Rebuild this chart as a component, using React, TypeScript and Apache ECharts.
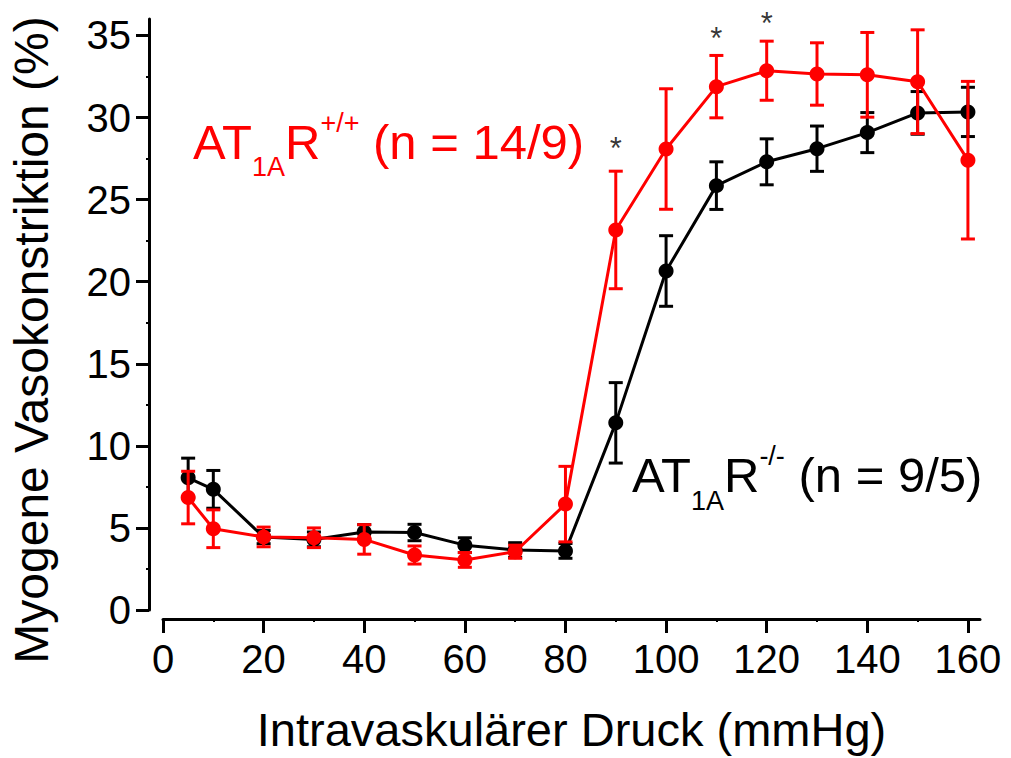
import { useEffect, useRef } from "react";
import * as echarts from "echarts";

// Intravascular pressure (mmHg)
const pressure = [5, 10, 20, 30, 40, 50, 60, 70, 80, 90, 100, 110, 120, 130, 140, 150, 160];
// AT1AR-/- (black)
const koMean = [8.05, 7.35, 4.44, 4.3, 4.75, 4.72, 3.95, 3.65, 3.6, 11.4, 20.65, 25.85, 27.3, 28.1, 29.08, 30.28, 30.34];
const koErr = [1.2, 1.15, 0.4, 0.45, 0.45, 0.5, 0.45, 0.45, 0.45, 2.45, 2.15, 1.45, 1.4, 1.38, 1.22, 1.3, 1.5];
// AT1AR+/+ (red)
const wtMean = [6.85, 4.95, 4.45, 4.4, 4.3, 3.35, 3.05, 3.55, 6.45, 23.15, 28.08, 31.88, 32.85, 32.65, 32.6, 32.18, 27.4];
const wtErr = [1.6, 1.15, 0.6, 0.6, 0.9, 0.55, 0.45, 0.4, 2.3, 3.58, 3.67, 1.9, 1.8, 1.9, 2.58, 3.16, 4.8];
// significance markers
const starX = [90, 110, 120];
const starY = [28.1, 34.8, 35.7];

const xTicks = [0, 20, 40, 60, 80, 100, 120, 140, 160];
const yTicks = [0, 5, 10, 15, 20, 25, 30, 35];

const RED = "#ff0000";
const BLACK = "#000000";
const FONT = "'Liberation Sans', Arial, Helvetica, sans-serif";

function errorSeries(name: string, means: number[], errs: number[], color: string, z: number) {
  return {
    type: "custom",
    name,
    z,
    clip: false,
    data: pressure.map((p, i) => [p, means[i] - errs[i], means[i] + errs[i]]),
    encode: { x: 0, y: [1, 2] },
    renderItem: (_params: any, api: any) => {
      const x = api.value(0);
      const lo = api.coord([x, api.value(1)]);
      const hi = api.coord([x, api.value(2)]);
      const hw = 7;
      const style = { stroke: color, lineWidth: 3, fill: "none" };
      return {
        type: "group",
        children: [
          { type: "line", shape: { x1: lo[0], y1: lo[1], x2: hi[0], y2: hi[1] }, style },
          { type: "line", shape: { x1: lo[0] - hw, y1: lo[1], x2: lo[0] + hw, y2: lo[1] }, style },
          { type: "line", shape: { x1: hi[0] - hw, y1: hi[1], x2: hi[0] + hw, y2: hi[1] }, style },
        ],
      };
    },
  };
}

function lineSeries(name: string, means: number[], color: string, z: number) {
  return {
    type: "line",
    name,
    z,
    data: pressure.map((p, i) => [p, means[i]]),
    symbol: "circle",
    symbolSize: 15,
    showSymbol: true,
    itemStyle: { color },
    lineStyle: { color, width: 3 },
  };
}

function annotation(x: number, y: number, sup: string, tail: string, color: string, subPad: number, supPad: number) {
  return {
    type: "text",
    x,
    y,
    z: 100,
    style: {
      text: `{m|AT}{s|1A}{m|R}{p|${sup}}{m|${tail}}`,
      fill: color,
      verticalAlign: "middle",
      align: "left",
      rich: {
        m: { fontSize: 49, fontFamily: FONT, fill: color },
        s: { fontSize: 27, fontFamily: FONT, fill: color, padding: [subPad, 0, 0, 0] },
        p: { fontSize: 27, fontFamily: FONT, fill: color, padding: [0, 0, supPad, 0] },
      },
    },
  };
}

export default function App() {
  const ref = useRef<HTMLDivElement>(null);
  useEffect(() => {
    if (!ref.current) return;
    const chart = echarts.init(ref.current, undefined, { renderer: "svg" });
    chart.setOption({
      animation: false,
      backgroundColor: "#ffffff",
      grid: { left: 163, right: 31, top: 19, bottom: 141, containLabel: false },
      xAxis: {
        type: "value",
        min: 0,
        max: 162.4,
        interval: 20,
        offset: 9,
        name: "Intravaskulärer Druck (mmHg)",
        nameLocation: "middle",
        nameGap: 87,
        nameTextStyle: { fontSize: 47, fontFamily: FONT, color: BLACK },
        axisLine: { show: true, onZero: false, lineStyle: { color: BLACK, width: 3 } },
        axisTick: { show: true, length: 14, lineStyle: { color: BLACK, width: 3 }, customValues: xTicks },
        minorTick: { show: true, splitNumber: 2, length: 3, lineStyle: { color: BLACK, width: 2 } },
        axisLabel: { fontSize: 40, fontFamily: FONT, color: BLACK, margin: 20, customValues: xTicks },
        splitLine: { show: false },
      },
      yAxis: {
        type: "value",
        min: 0,
        max: 36,
        interval: 5,
        offset: 14,
        axisLine: { show: true, onZero: false, lineStyle: { color: BLACK, width: 3 } },
        axisTick: { show: true, length: 13, lineStyle: { color: BLACK, width: 3 }, customValues: yTicks },
        minorTick: { show: true, splitNumber: 2, length: 3, lineStyle: { color: BLACK, width: 2 } },
        axisLabel: { fontSize: 40, fontFamily: FONT, color: BLACK, margin: 18, customValues: yTicks },
        splitLine: { show: false },
      },
      series: [
        errorSeries("AT1AR-/- SEM", koMean, koErr, BLACK, 1),
        lineSeries("AT1AR-/-", koMean, BLACK, 2),
        errorSeries("AT1AR+/+ SEM", wtMean, wtErr, RED, 3),
        lineSeries("AT1AR+/+", wtMean, RED, 4),
        {
          type: "scatter",
          name: "signifikant",
          z: 5,
          clip: false,
          data: starX.map((x, i) => [x, starY[i]]),
          symbolSize: 1,
          itemStyle: { color: "rgba(0,0,0,0)" },
          label: {
            show: true,
            position: "inside",
            formatter: "*",
            fontSize: 31,
            fontFamily: FONT,
            color: BLACK,
          },
        },
      ],
      graphic: [
        {
          type: "text",
          x: 31,
          y: 340,
          rotation: Math.PI / 2,
          z: 100,
          style: {
            text: "Myogene Vasokonstriktion (%)",
            fontSize: 48,
            fontFamily: FONT,
            fill: BLACK,
            align: "center",
            verticalAlign: "middle",
          },
        },
        annotation(193, 142, "+/+", " (n = 14/9)", RED, 49, 39),
        annotation(632, 475, "-/-", " (n = 9/5)", BLACK, 51, 39),
      ],
    });
    return () => chart.dispose();
  }, []);
  return (
    <div
      ref={ref}
      style={{ position: "fixed", left: 0, top: 0, width: 1011, height: 758, background: "#fff" }}
    />
  );
}
